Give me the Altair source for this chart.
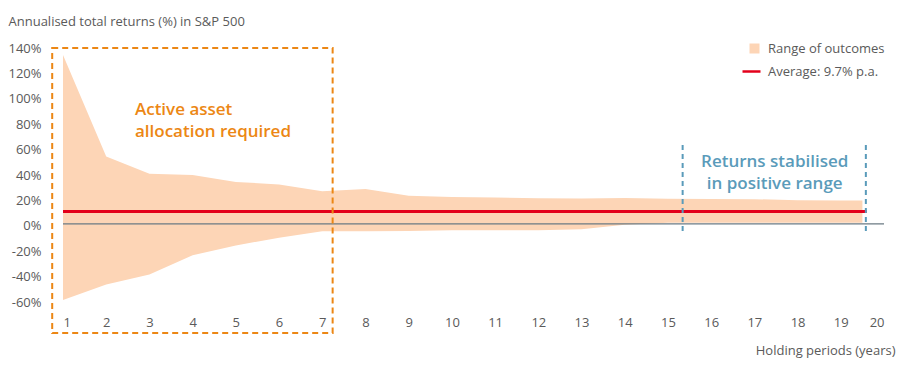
import altair as alt
import pandas as pd

# ---- data ----
years = [1, 2, 3, 4, 5, 6, 7, 8, 9, 10, 11, 12, 13, 14, 15, 16, 17, 18, 19, 19.5]
upper = [133, 53, 39.5, 38.5, 33, 31, 25.6, 27.5, 22, 21.2, 20.7, 20.2, 19.9, 20.3, 19.8, 19.6, 19.4, 18.6, 18.3, 18.3]
lower = [-60, -47.7, -39.9, -24.7, -17, -11, -5.8, -5.8, -5.6, -5, -5, -5, -4.2, -0.8, 0.8, 0.8, 0.8, 0.8, 0.8, 0.8]

average = 9.7
avg_span = [1, 19.6]
zero_span = [1, 20]
x_ticks = list(range(1, 21))
y_ticks = [-60, -40, -20, 0, 20, 40, 60, 80, 100, 120, 140]

range_label = "Range of outcomes"
avg_label = "Average: 9.7% p.a."

# annotation boxes / markers (data units)
active_box = {"x": 0.75, "x2": 7.24, "y": 138.5, "y2": -86}
stable_lines = [15.34, 19.58]
stable_y = [62, -5.8]
active_text = {"x": 2.665, "y": 89.5, "text": ["Active asset", "allocation required"]}
stable_text = {"x": 17.47, "y": 48.6, "text": ["Returns stabilised", "in positive range"]}

PEACH = "#FDD5B6"
RED = "#E3001B"
GREY = "#6B7A83"
ORANGE = "#EC8714"
BLUE = "#5A9BBA"
LABEL = "#5a5a5a"
FONT = "Open Sans"

band = pd.DataFrame({"year": years, "upper": upper, "lower": lower, "series": range_label})
avg_df = pd.DataFrame({"x": [avg_span[0]], "x2": [avg_span[1]], "y": [average], "series": [avg_label]})
zero_df = pd.DataFrame({"x": [zero_span[0]], "x2": [zero_span[1]], "y": [0]})
box_df = pd.DataFrame([active_box])
vline_df = pd.DataFrame({"x": stable_lines, "y": [stable_y[0]] * 2, "y2": [stable_y[1]] * 2})
atext_df = pd.DataFrame([active_text])
stext_df = pd.DataFrame([stable_text])

xscale = alt.Scale(domain=[1, 20], nice=False, zero=False)
yscale = alt.Scale(domain=[-60, 140], nice=False, zero=False)

x_axis = alt.Axis(
    values=x_ticks, tickCount=len(x_ticks), format="d", grid=False, domain=False, ticks=False, tickSize=0,
    labelOverlap=False,
    labelPadding=16, labelFontSize=13, labelColor=LABEL, labelFont=FONT,
    title="Holding periods (years)", titleFont=FONT, titleFontSize=13, titleFontWeight="normal",
    titleColor=LABEL, titleAnchor="end", titleAlign="right", titleBaseline="alphabetic",
    titleX=832, titleY=54,
)
y_axis = alt.Axis(
    values=y_ticks, tickCount=len(y_ticks), labelExpr="datum.value + '%'", grid=False, domain=False,
    ticks=False, tickSize=0, labelOverlap=False,
    labelPadding=22, labelFontSize=13, labelColor=LABEL, labelFont=FONT, labelOffset=2,
    title="Annualised total returns (%) in S&P 500", titleFont=FONT, titleFontSize=13,
    titleFontWeight="normal", titleColor=LABEL, titleAngle=0, titleAlign="left",
    titleBaseline="alphabetic", titleX=-55, titleY=-21,
)

area = alt.Chart(band).mark_area(opacity=1).encode(
    x=alt.X("year:Q", scale=xscale, axis=x_axis),
    y=alt.Y("upper:Q", scale=yscale, axis=y_axis),
    y2="lower:Q",
    fill=alt.Fill(
        "series:N",
        scale=alt.Scale(domain=[range_label], range=[PEACH]),
        legend=alt.Legend(
            title=None, orient="none", legendX=685, legendY=-4, padding=0,
            symbolType="square", symbolSize=100, symbolStrokeWidth=0, labelOffset=7,
            labelFont=FONT, labelFontSize=13, labelColor=LABEL, labelLimit=300,
        ),
    ),
)

zero = alt.Chart(zero_df).mark_rule(color=GREY, strokeWidth=1.3).encode(
    x="x:Q", x2="x2:Q", y="y:Q"
)

avg = alt.Chart(avg_df).mark_rule(strokeWidth=3).encode(
    x="x:Q", x2="x2:Q", y="y:Q",
    stroke=alt.Stroke(
        "series:N",
        scale=alt.Scale(domain=[avg_label], range=[RED]),
        legend=alt.Legend(
            title=None, orient="none", legendX=678, legendY=15, padding=0,
            symbolType="stroke", symbolSize=324, symbolStrokeWidth=2.5, labelOffset=6,
            labelFont=FONT, labelFontSize=13, labelColor=LABEL, labelLimit=300,
        ),
    ),
)

box = alt.Chart(box_df).mark_rect(
    filled=False, stroke=ORANGE, strokeWidth=2, strokeDash=[6, 4]
).encode(x="x:Q", x2="x2:Q", y="y:Q", y2="y2:Q")

vlines = alt.Chart(vline_df).mark_rule(
    color=BLUE, strokeWidth=2, strokeDash=[5, 4]
).encode(x="x:Q", y="y:Q", y2="y2:Q")

atext = alt.Chart(atext_df).mark_text(
    align="left", baseline="middle", font=FONT, fontSize=17, fontWeight=600,
    color=ORANGE, lineHeight=21.5,
).encode(x="x:Q", y="y:Q", text="text")

stext = alt.Chart(stext_df).mark_text(
    align="center", baseline="middle", font=FONT, fontSize=17, fontWeight=600,
    color=BLUE, lineHeight=21.5,
).encode(x="x:Q", y="y:Q", text="text")

chart = (
    alt.layer(area, zero, avg, box, vlines, atext, stext)
    .properties(
        width=821, height=254,
        autosize=alt.AutoSizeParams(type="none"),
        padding={"left": 55, "right": 12, "top": 38, "bottom": 62},
    )
    .configure(font=FONT)
    .configure_view(stroke=None)
    .configure_axis(labelOverlap=False)
)

chart.save("out.html", embed_options={"renderer": "svg", "actions": False})
